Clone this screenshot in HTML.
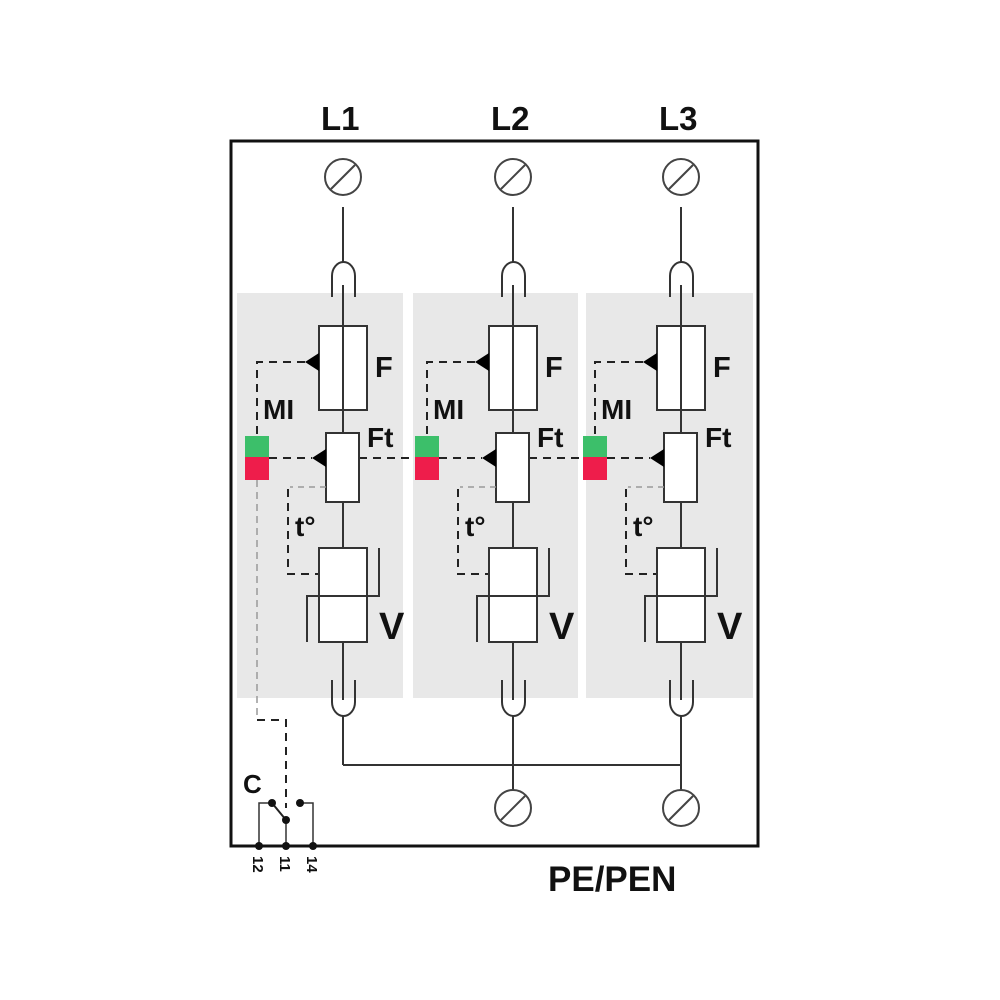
<!DOCTYPE html>
<html><head><meta charset="utf-8"><style>
html,body{margin:0;padding:0;background:#fff;}
svg{display:block;}
text{font-family:"Liberation Sans",Arial,sans-serif;font-weight:bold;fill:#111;}
</style></head><body>
<svg width="1000" height="1000" viewBox="0 0 1000 1000" xmlns="http://www.w3.org/2000/svg">
<defs>
<g id="col">
  <circle cx="343" cy="177" r="18" fill="none" stroke="#444" stroke-width="2"/>
  <line x1="331" y1="189" x2="355" y2="165" stroke="#444" stroke-width="2"/>
  <line x1="343" y1="207" x2="343" y2="262" stroke="#333" stroke-width="2"/>
  <path d="M332 297 L332 276 A11.5 14 0 0 1 355 276 L355 297" fill="none" stroke="#333" stroke-width="2"/>
  <line x1="343" y1="285" x2="343" y2="548" stroke="#333" stroke-width="2"/>
  <rect x="319" y="326" width="48" height="84" fill="#fff" stroke="#333" stroke-width="2"/>
  <line x1="343" y1="326" x2="343" y2="410" stroke="#333" stroke-width="2"/>
  <polygon points="305,362 319,353 319,371" fill="#000"/>
  <path d="M305 362 L257 362 L257 436" fill="none" stroke="#222" stroke-width="2" stroke-dasharray="8,6"/>
  <rect x="245" y="436" width="24" height="21" fill="#3cbf6a"/>
  <rect x="245" y="457" width="24" height="23" fill="#ee1d4b"/>
  <rect x="326" y="433" width="33" height="69" fill="#fff" stroke="#333" stroke-width="2"/>
  <polygon points="312,458 326,449 326,467" fill="#000"/>
  <line x1="269" y1="458" x2="312" y2="458" stroke="#222" stroke-width="2" stroke-dasharray="8,6"/>
  <line x1="326" y1="487" x2="290" y2="487" stroke="#999" stroke-width="1.5" stroke-dasharray="6,5"/>
  <path d="M288 489 L288 574 L319 574" fill="none" stroke="#222" stroke-width="2" stroke-dasharray="8,6"/>
  <rect x="319" y="548" width="48" height="94" fill="#fff" stroke="#333" stroke-width="2"/>
  <line x1="319" y1="596" x2="367" y2="596" stroke="#333" stroke-width="2"/>
  <path d="M379 548 L379 596 L307 596 L307 642" fill="none" stroke="#333" stroke-width="2"/>
  <line x1="343" y1="642" x2="343" y2="700" stroke="#333" stroke-width="2"/>
  <path d="M332 680 L332 702 A11.5 14 0 0 0 355 702 L355 680" fill="none" stroke="#333" stroke-width="2"/>
  <line x1="343" y1="716" x2="343" y2="765" stroke="#333" stroke-width="2"/>
  <text x="375" y="377" font-size="29">F</text>
  <text x="263" y="419" font-size="28">MI</text>
  <text x="367" y="447" font-size="28">Ft</text>
  <text x="295" y="536" font-size="28">t°</text>
  <text x="379" y="639" font-size="38">V</text>
</g>
</defs>

<rect x="231" y="141" width="527" height="705" fill="none" stroke="#111" stroke-width="3"/>

<rect x="237" y="293" width="166" height="405" fill="#e8e8e8"/>
<rect x="413" y="293" width="165" height="405" fill="#e8e8e8"/>
<rect x="586" y="293" width="167" height="405" fill="#e8e8e8"/>

<line x1="359" y1="458" x2="415" y2="458" stroke="#222" stroke-width="2" stroke-dasharray="8,6"/>
<line x1="529" y1="458" x2="585" y2="458" stroke="#222" stroke-width="2" stroke-dasharray="8,6"/>

<use href="#col"/>
<use href="#col" transform="translate(170,0)"/>
<use href="#col" transform="translate(338,0)"/>

<text x="321" y="130" font-size="33">L1</text>
<text x="491" y="130" font-size="33">L2</text>
<text x="659" y="130" font-size="33">L3</text>

<line x1="343" y1="765" x2="681" y2="765" stroke="#333" stroke-width="2"/>
<line x1="513" y1="765" x2="513" y2="790" stroke="#333" stroke-width="2"/>
<line x1="681" y1="765" x2="681" y2="790" stroke="#333" stroke-width="2"/>
<circle cx="513" cy="808" r="18" fill="none" stroke="#444" stroke-width="2"/>
<line x1="501" y1="820" x2="525" y2="796" stroke="#444" stroke-width="2"/>
<circle cx="681" cy="808" r="18" fill="none" stroke="#444" stroke-width="2"/>
<line x1="669" y1="820" x2="693" y2="796" stroke="#444" stroke-width="2"/>

<line x1="257" y1="480" x2="257" y2="718" stroke="#999" stroke-width="1.5" stroke-dasharray="7,5"/>
<path d="M257 720 L286 720 L286 808" fill="none" stroke="#222" stroke-width="2" stroke-dasharray="8,6"/>

<text x="243" y="793" font-size="26">C</text>
<path d="M272 803 L259 803 L259 846" fill="none" stroke="#333" stroke-width="1.5"/>
<path d="M300 803 L313 803 L313 846" fill="none" stroke="#333" stroke-width="1.5"/>
<line x1="286" y1="820" x2="286" y2="846" stroke="#333" stroke-width="1.5"/>
<line x1="272" y1="803" x2="286" y2="820" stroke="#222" stroke-width="2"/>
<circle cx="272" cy="803" r="4" fill="#111"/>
<circle cx="300" cy="803" r="4" fill="#111"/>
<circle cx="286" cy="820" r="4" fill="#111"/>
<circle cx="259" cy="846" r="4" fill="#111"/>
<circle cx="286" cy="846" r="4" fill="#111"/>
<circle cx="313" cy="846" r="4" fill="#111"/>
<text font-size="15" transform="translate(253,856) rotate(90)">12</text>
<text font-size="15" transform="translate(280,856) rotate(90)">11</text>
<text font-size="15" transform="translate(307,856) rotate(90)">14</text>

<text x="548" y="891" font-size="35">PE/PEN</text>
</svg>
</body></html>
